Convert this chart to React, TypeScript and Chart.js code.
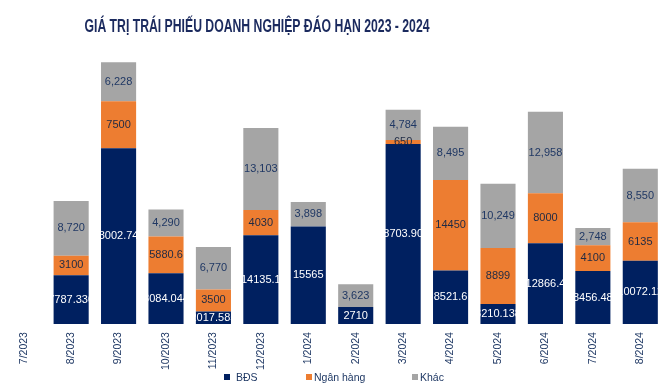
import React, { useEffect, useRef } from "react";
import { Chart, registerables } from "chart.js";

Chart.register(...registerables);

const title = "GIÁ TRỊ TRÁI PHIẾU DOANH NGHIỆP ĐÁO HẠN 2023 - 2024";
const categories = ["7/2023", "8/2023", "9/2023", "10/2023", "11/2023", "12/2023", "1/2024", "2/2024", "3/2024", "4/2024", "5/2024", "6/2024", "7/2024", "8/2024"];
const bdsText = ["", "7787.330", "28002.741", "8084.044", "2017.585", "14135.1", "15565", "2710", "28703.901", "8521.6", "3210.138", "12866.4", "8456.48", "10072.12"];
const bds = bdsText.map((t) => (t === "" ? null : parseFloat(t)));
const nganHang = [null, 3100, 7500, 5880.6, 3500, 4030, null, null, 650, 14450, 8899, 8000, 4100, 6135];
const khac = [null, 8720, 6228, 4290, 6770, 13103, 3898, 3623, 4784, 8495, 10249, 12958, 2748, 8550];
const seriesNames = ["BĐS", "Ngân hàng", "Khác"];
const colors = ["#002060", "#ED7D31", "#A5A5A5"];
const labelColors = ["#FFFFFF", "#1F2A44", "#203864"];
const yMax = 44000;

const FONT2 = '"Liberation Sans", Arial, sans-serif';

const formatters = [
  (i: number, v: number) => bdsText[i],
  (i: number, v: number) => String(v),
  (i: number, v: number) => v.toLocaleString("en-US"),
];

const dataLabelPlugin = {
  id: "dataLabels",
  afterDatasetsDraw(chart: any) {
    const ctx = chart.ctx;
    ctx.save();
    ctx.font = "11px " + FONT2;
    ctx.textAlign = "center";
    ctx.textBaseline = "middle";
    chart.data.datasets.forEach((ds: any, di: number) => {
      const meta = chart.getDatasetMeta(di);
      meta.data.forEach((el: any, i: number) => {
        const v = ds.data[i];
        if (v === null || v === undefined) return;
        const y = (el.y + el.base) / 2;
        ctx.fillStyle = labelColors[di];
        ctx.fillText(formatters[di](i, v), el.x, y);
      });
    });
    ctx.restore();
  },
};

const titlePlugin = {
  id: "customTitle",
  afterDraw(chart: any) {
    const ctx = chart.ctx;
    ctx.save();
    ctx.font = 'bold 19px "Liberation Sans Narrow", "Liberation Sans", sans-serif';
    const w = ctx.measureText(title).width;
    const target = 345;
    const sx = target / w;
    ctx.translate(257, 27);
    ctx.scale(sx, 1);
    ctx.fillStyle = "#1B2A5E";
    ctx.textAlign = "center";
    ctx.textBaseline = "middle";
    ctx.fillText(title, 0, 0);
    ctx.restore();
  },
};

const legendLeft = [224, 306, 412];
const legendGap = [6, 2, 2];

export default function App() {
  const ref = useRef<HTMLCanvasElement>(null);
  useEffect(() => {
    if (!ref.current) return;
    const datasets = [bds, nganHang, khac].map((d, i) => ({
      label: seriesNames[i],
      data: d,
      backgroundColor: colors[i],
      borderWidth: 0,
      barPercentage: 0.74,
      categoryPercentage: 1,
    }));
    const chart = new Chart(ref.current, {
      type: "bar",
      data: { labels: categories, datasets },
      options: {
        animation: false,
        responsive: true,
        maintainAspectRatio: false,
        layout: { padding: { top: 48, left: 0, right: 8, bottom: 14 } },
        plugins: {
          legend: { display: false },
          title: { display: false },
          tooltip: { enabled: false },
        },
        scales: {
          x: {
            stacked: true,
            grid: { display: false, drawTicks: false },
            border: { display: false },
            ticks: {
              autoSkip: false,
              minRotation: 90,
              maxRotation: 90,
              padding: 8,
              color: "#1F3864",
              font: { family: FONT2, size: 10.5 },
            },
          },
          y: {
            stacked: true,
            display: false,
            min: 0,
            max: yMax,
          },
        },
      },
      plugins: [dataLabelPlugin, titlePlugin],
    });
    return () => chart.destroy();
  }, []);

  return (
    <div style={{ position: "absolute", left: 0, top: 0, width: 672, height: 392, background: "#fff" }}>
      <canvas ref={ref} />
      {seriesNames.map((name, i) => (
        <div
          key={i}
          style={{
            position: "absolute",
            left: legendLeft[i],
            top: 370,
            height: 14,
            display: "flex",
            alignItems: "center",
            gap: legendGap[i],
            fontFamily: FONT2,
            fontSize: 10.5,
            color: "#1F3864",
            whiteSpace: "nowrap",
          }}
        >
          <span style={{ display: "inline-block", width: 6, height: 6, background: colors[i] }} />
          <span>{name}</span>
        </div>
      ))}
    </div>
  );
}
